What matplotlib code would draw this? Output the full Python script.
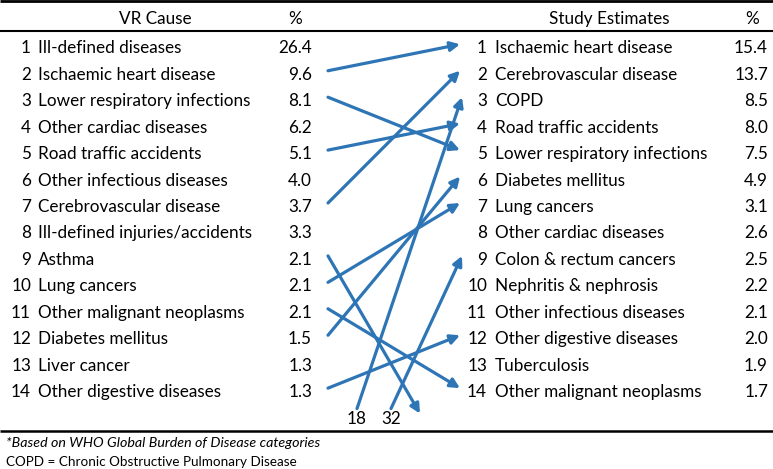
import matplotlib.pyplot as plt

plt.rcParams['font.family'] = ['Lato', 'DejaVu Sans']

vr_causes = ["Ill-defined diseases", "Ischaemic heart disease", "Lower respiratory infections",
             "Other cardiac diseases", "Road traffic accidents", "Other infectious diseases",
             "Cerebrovascular disease", "Ill-defined injuries/accidents", "Asthma", "Lung cancers",
             "Other malignant neoplasms", "Diabetes mellitus", "Liver cancer", "Other digestive diseases"]
vr_pct = ["26.4", "9.6", "8.1", "6.2", "5.1", "4.0", "3.7", "3.3", "2.1", "2.1", "2.1", "1.5", "1.3", "1.3"]

study_causes = ["Ischaemic heart disease", "Cerebrovascular disease", "COPD", "Road traffic accidents",
                "Lower respiratory infections", "Diabetes mellitus", "Lung cancers", "Other cardiac diseases",
                "Colon & rectum cancers", "Nephritis & nephrosis", "Other infectious diseases",
                "Other digestive diseases", "Tuberculosis", "Other malignant neoplasms"]
study_pct = ["15.4", "13.7", "8.5", "8.0", "7.5", "4.9", "3.1", "2.6", "2.5", "2.2", "2.1", "2.0", "1.9", "1.7"]

# (VR rank, study rank); None = falls outside the study top 14
moves = [(2, 1), (3, 5), (5, 4), (7, 2), (9, None), (10, 7), (11, 14), (12, 6), (14, 12)]
# causes outside the VR top 14: (VR rank, study rank)
unlisted = [(18, 3), (32, 9)]

blue = "#2E75B6"
fs = 12.3

fig = plt.figure(figsize=(7.73, 4.69), dpi=100)
ax = fig.add_axes([0, 0, 1, 1])
ax.set_xlim(0, 773)
ax.set_ylim(469, 0)
ax.axis('off')


def base(i):
    """baseline of row i (pixels)"""
    return 53.3 + 26.45 * (i - 1)


# rules
for y, lw in [(1, 2.0), (31, 1.5), (431, 1.8)]:
    ax.plot([0, 773], [y, y], color='black', lw=lw, solid_capstyle='butt')

# headers
ax.text(155, 24, "VR Cause", fontsize=fs, ha='center', va='baseline')
ax.text(295, 24, "%", fontsize=fs, ha='center', va='baseline')
ax.text(609, 24, "Study Estimates", fontsize=fs, ha='center', va='baseline')
ax.text(752, 24, "%", fontsize=fs, ha='center', va='baseline')

for i, (c, p) in enumerate(zip(vr_causes, vr_pct), start=1):
    ax.text(31, base(i), str(i), fontsize=fs, ha='right', va='baseline')
    ax.text(38, base(i), c, fontsize=fs, ha='left', va='baseline')
    ax.text(312, base(i), p, fontsize=fs, ha='right', va='baseline')

for i, (c, p) in enumerate(zip(study_causes, study_pct), start=1):
    ax.text(487, base(i), str(i), fontsize=fs, ha='right', va='baseline')
    ax.text(495, base(i), c, fontsize=fs, ha='left', va='baseline')
    ax.text(768, base(i), p, fontsize=fs, ha='right', va='baseline')

arrow = dict(arrowstyle='-|>', color=blue, lw=2.3, mutation_scale=14, shrinkA=0, shrinkB=0)
x_left, x_right, x_out = 328, 460, 420

for a, b in moves:
    start = (x_left, base(a) - 9)
    end = (x_right, base(b) - 9) if b is not None else (x_out, base(15) - 10)
    ax.annotate("", xy=end, xytext=start, arrowprops=arrow)

for (r, b), x in zip(unlisted, [357, 391]):
    ax.text(x, base(15), str(r), fontsize=fs, ha='center', va='baseline')
    ax.annotate("", xy=(x_right + 2, base(b) - 9), xytext=(x, base(15) - 15), arrowprops=arrow)

ax.text(6, 447, "*Based on WHO Global Burden of Disease categories", fontsize=10.3,
        style='italic', ha='left', va='baseline')
ax.text(6, 466.5, "COPD = Chronic Obstructive Pulmonary Disease", fontsize=9.7,
        ha='left', va='baseline')

fig.savefig("out.png", dpi=100)
